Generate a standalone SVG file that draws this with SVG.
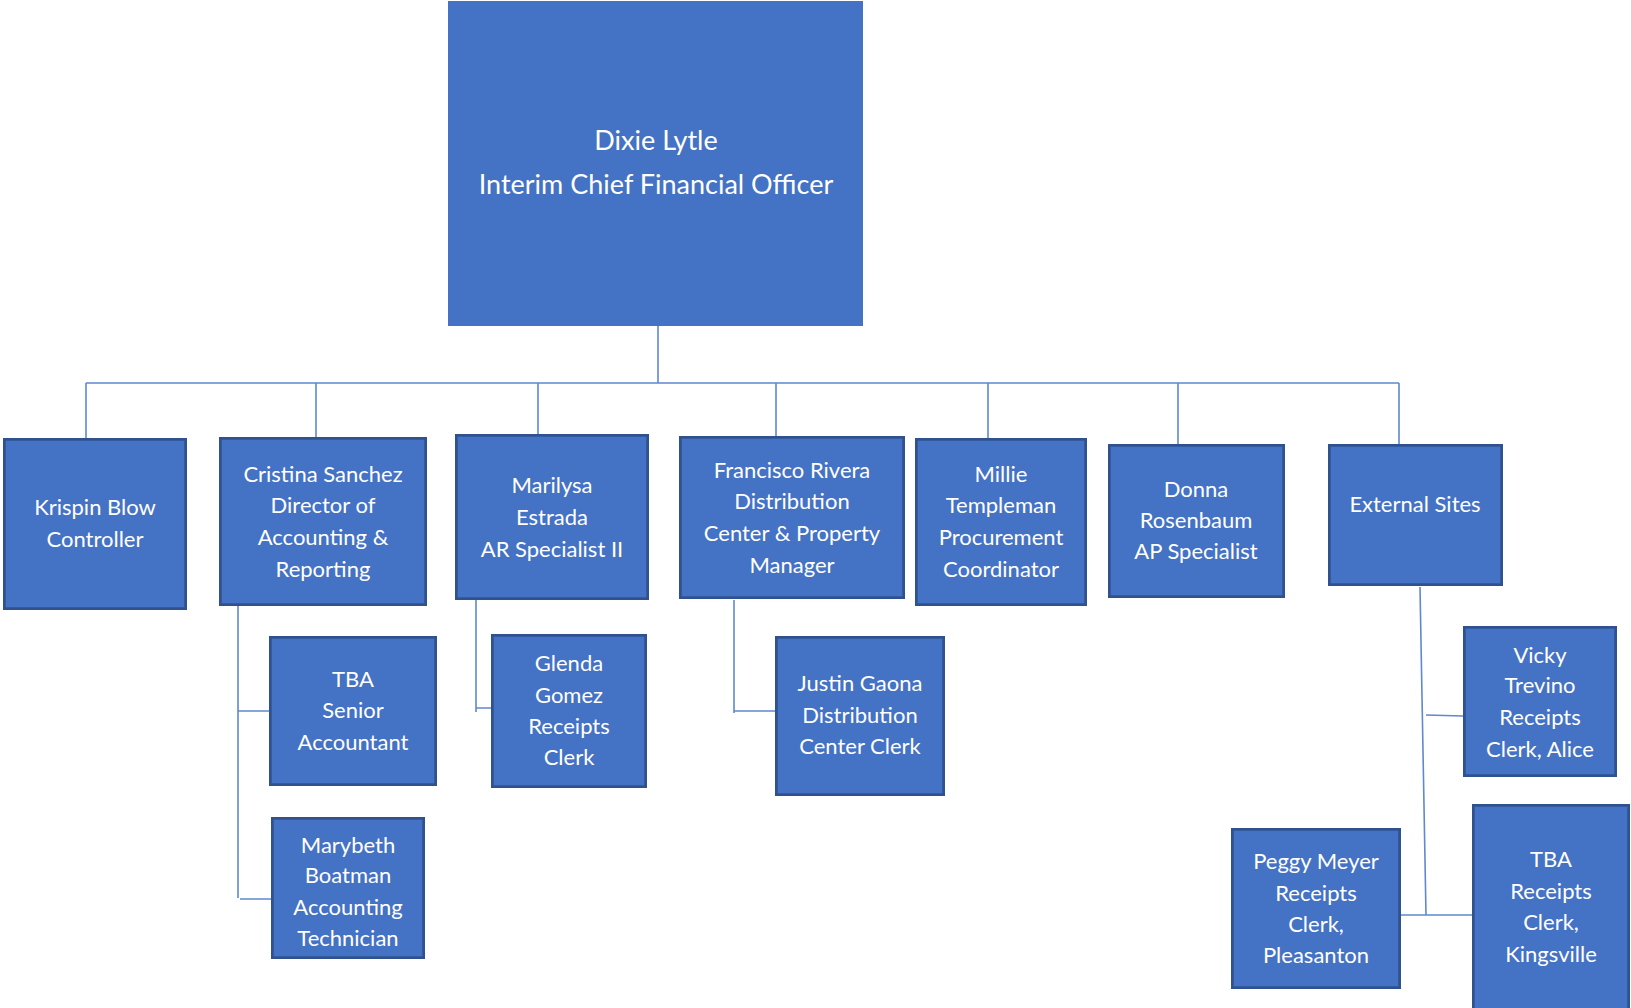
<svg xmlns="http://www.w3.org/2000/svg" width="1631" height="1008" viewBox="0 0 1631 1008">
<style>
.box{fill:#4472C4;stroke:#2F528F;stroke-width:2.7}
.top{fill:#4472C4;stroke:none}
.t{font-family:Lato,"Liberation Sans",sans-serif;font-size:22px;fill:#FFFFFF;text-anchor:middle}
.tt{font-family:Lato,"Liberation Sans",sans-serif;font-size:27px;fill:#FFFFFF;text-anchor:middle}
.c{stroke:#5F88D0;stroke-width:1.6;fill:none}
</style>
<rect width="1631" height="1008" fill="#FFFFFF"/>
<g id="connectors" class="c">
<path d="M658,326V383M86,383H1399M86,383V438M316,383V437M538,383V434M776,383V436M988,383V438M1178,383V444M1399,383V444"/>
<path d="M238,606V898M238,711H269M240,899H271"/>
<path d="M476,599V712M476,708H491"/>
<path d="M734,600V713M734,711H775"/>
<path d="M1420,587L1426,915M1426,715L1463,716M1401,915H1472"/>
</g>
<g id="n-dixie">
<rect class="top" x="448" y="1" width="415" height="325"/>
<text class="tt" x="656" y="150">Dixie Lytle</text>
<text class="tt" x="656" y="194">Interim Chief Financial Officer</text>
</g>
<g id="n-krispin">
<rect class="box" x="4.35" y="439.35" width="181.3" height="169.3"/>
<text class="t" x="95" y="515">Krispin Blow</text>
<text class="t" x="95" y="547">Controller</text>
</g>
<g id="n-cristina">
<rect class="box" x="220.35" y="438.35" width="205.3" height="166.3"/>
<text class="t" x="323" y="482">Cristina Sanchez</text>
<text class="t" x="323" y="513">Director of</text>
<text class="t" x="323" y="545">Accounting &amp;</text>
<text class="t" x="323" y="577">Reporting</text>
</g>
<g id="n-marilysa">
<rect class="box" x="456.35" y="435.35" width="191.3" height="163.3"/>
<text class="t" x="552" y="493">Marilysa</text>
<text class="t" x="552" y="525">Estrada</text>
<text class="t" x="552" y="557">AR Specialist II</text>
</g>
<g id="n-francisco">
<rect class="box" x="680.35" y="437.35" width="223.3" height="160.3"/>
<text class="t" x="792" y="478">Francisco Rivera</text>
<text class="t" x="792" y="509">Distribution</text>
<text class="t" x="792" y="541">Center &amp; Property</text>
<text class="t" x="792" y="573">Manager</text>
</g>
<g id="n-millie">
<rect class="box" x="916.35" y="439.35" width="169.3" height="165.3"/>
<text class="t" x="1001" y="482">Millie</text>
<text class="t" x="1001" y="513">Templeman</text>
<text class="t" x="1001" y="545">Procurement</text>
<text class="t" x="1001" y="577">Coordinator</text>
</g>
<g id="n-donna">
<rect class="box" x="1109.35" y="445.35" width="174.3" height="151.3"/>
<text class="t" x="1196" y="497">Donna</text>
<text class="t" x="1196" y="528">Rosenbaum</text>
<text class="t" x="1196" y="559">AP Specialist</text>
</g>
<g id="n-external">
<rect class="box" x="1329.35" y="445.35" width="172.3" height="139.3"/>
<text class="t" x="1415" y="512">External Sites</text>
</g>
<g id="n-tba-senior">
<rect class="box" x="270.35" y="637.35" width="165.3" height="147.3"/>
<text class="t" x="353" y="687">TBA</text>
<text class="t" x="353" y="718">Senior</text>
<text class="t" x="353" y="750">Accountant</text>
</g>
<g id="n-marybeth">
<rect class="box" x="272.35" y="818.35" width="151.3" height="139.3"/>
<text class="t" x="348" y="853">Marybeth</text>
<text class="t" x="348" y="883">Boatman</text>
<text class="t" x="348" y="915">Accounting</text>
<text class="t" x="348" y="946">Technician</text>
</g>
<g id="n-glenda">
<rect class="box" x="492.35" y="635.35" width="153.3" height="151.3"/>
<text class="t" x="569" y="671">Glenda</text>
<text class="t" x="569" y="703">Gomez</text>
<text class="t" x="569" y="734">Receipts</text>
<text class="t" x="569" y="765">Clerk</text>
</g>
<g id="n-justin">
<rect class="box" x="776.35" y="637.35" width="167.3" height="157.3"/>
<text class="t" x="860" y="691">Justin Gaona</text>
<text class="t" x="860" y="723">Distribution</text>
<text class="t" x="860" y="754">Center Clerk</text>
</g>
<g id="n-vicky">
<rect class="box" x="1464.35" y="627.35" width="151.3" height="148.3"/>
<text class="t" x="1540" y="663">Vicky</text>
<text class="t" x="1540" y="693">Trevino</text>
<text class="t" x="1540" y="725">Receipts</text>
<text class="t" x="1540" y="757">Clerk, Alice</text>
</g>
<g id="n-peggy">
<rect class="box" x="1232.35" y="829.35" width="167.3" height="158.3"/>
<text class="t" x="1316" y="869">Peggy Meyer</text>
<text class="t" x="1316" y="901">Receipts</text>
<text class="t" x="1316" y="932">Clerk,</text>
<text class="t" x="1316" y="963">Pleasanton</text>
</g>
<g id="n-tba-kingsville">
<rect class="box" x="1473.35" y="805.35" width="155.3" height="210"/>
<text class="t" x="1551" y="867">TBA</text>
<text class="t" x="1551" y="899">Receipts</text>
<text class="t" x="1551" y="930">Clerk,</text>
<text class="t" x="1551" y="962">Kingsville</text>
</g>
</svg>
